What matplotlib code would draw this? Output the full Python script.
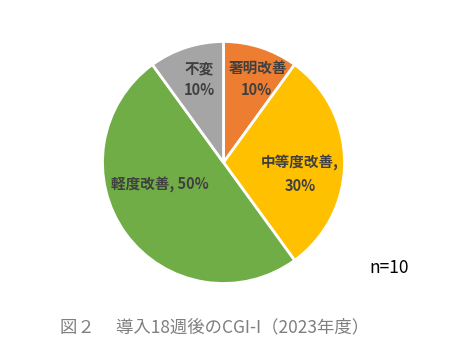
import matplotlib
matplotlib.use("Agg")
import matplotlib.pyplot as plt

plt.rcParams["font.family"] = ["Noto Sans CJK JP", "DejaVu Sans"]

# data
categories = ["著明改善", "中等度改善", "軽度改善", "不変"]
percents = [10, 30, 50, 10]
colors = ["#ED7D31", "#FFC000", "#70AD47", "#A5A5A5"]
n_total = 10
caption = "図２　 導入18週後のCGI-I（2023年度）"

W, H = 467, 355
fig = plt.figure(figsize=(W / 100, H / 100), dpi=100)
ax = fig.add_axes([0, 0, 1, 1])

cx, cy, r = 223.5, H - 162.5, 121
ax.pie(
    percents,
    colors=colors,
    startangle=90,
    counterclock=False,
    center=(cx, cy),
    radius=r,
    wedgeprops={"edgecolor": "white", "linewidth": 2},
    frame=True,
)
ax.set_xlim(0, W)
ax.set_ylim(0, H)
ax.set_aspect("equal")
ax.axis("off")

lbl = dict(color="#404040", fontsize=10.5, fontweight="bold", ha="center", va="center")
ax.text(258, H - 68, f"{categories[0]}", **lbl)
ax.text(256, H - 90, f"{percents[0]}%", **lbl)
ax.text(300, H - 163, f"{categories[1]},", **lbl)
ax.text(300, H - 186, f"{percents[1]}%", **lbl)
ax.text(160, H - 185, f"{categories[2]}, {percents[2]}%", **lbl)
ax.text(199, H - 68, f"{categories[3]}", **lbl)
ax.text(199, H - 90, f"{percents[3]}%", **lbl)

ax.text(389, H - 268, f"n={n_total}", fontsize=12.5, color="black",
        ha="center", va="center")
ax.text(60, H - 327, caption, fontsize=12.5, color="#7F7F7F",
        ha="left", va="center")

fig.savefig("out.png", dpi=100)
